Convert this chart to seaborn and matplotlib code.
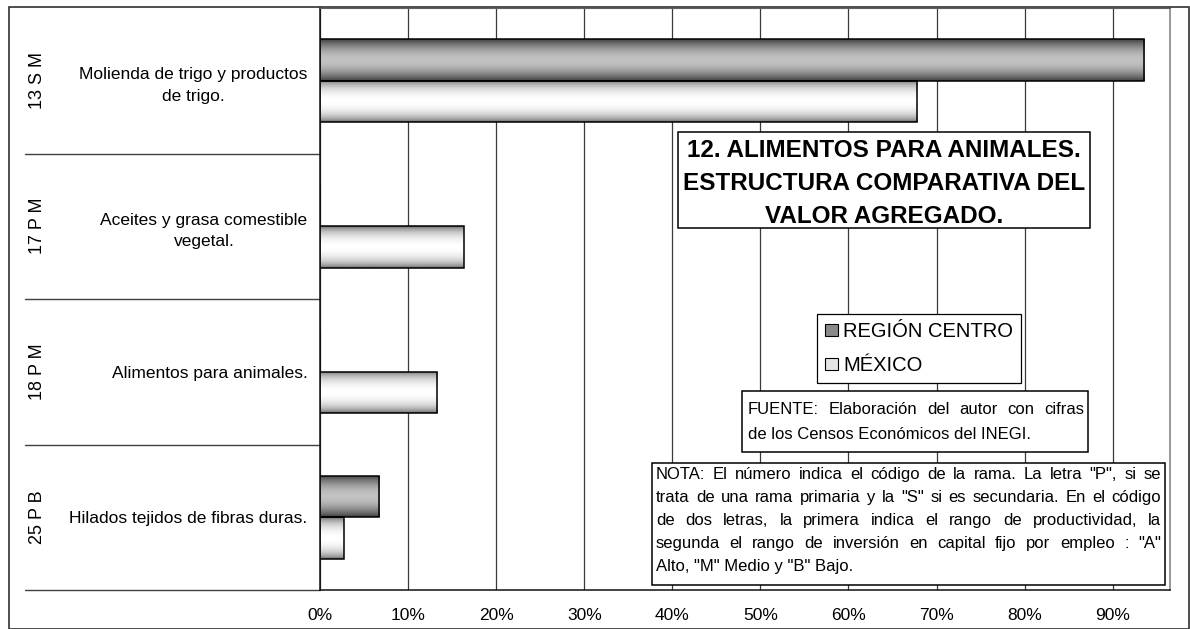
import numpy as np
import pandas as pd
import matplotlib
matplotlib.use("Agg")
import matplotlib.pyplot as plt
import matplotlib.transforms as mtrans
from matplotlib.patches import Rectangle, Patch
import seaborn as sns

# datos (porcentaje del valor agregado)
codigos = ["13 S M", "17 P M", "18 P M", "25 P B"]
ramas = ["Molienda de trigo y productos\nde trigo.",
         "Aceites y grasa comestible\nvegetal.",
         "Alimentos para animales.",
         "Hilados tejidos de fibras duras."]
series = ["REGIÓN CENTRO", "MÉXICO"]
region_centro = [93.6, 0.0, 0.0, 6.7]
mexico = [67.8, 16.3, 13.3, 2.7]
xticks = [0, 10, 20, 30, 40, 50, 60, 70, 80, 90]

titulo = ["12. ALIMENTOS PARA ANIMALES.", "ESTRUCTURA COMPARATIVA DEL", "VALOR AGREGADO."]
fuente = ["FUENTE: Elaboración del autor con cifras",
          "de los Censos Económicos del INEGI."]
nota = ['NOTA: El número indica el código de la rama. La letra "P", si se',
        'trata de una rama primaria y la "S" si es secundaria. En el código',
        'de dos letras, la primera indica el rango de productividad, la',
        'segunda el rango de inversión en capital fijo por empleo : "A"',
        'Alto, "M" Medio y "B" Bajo.']

df = pd.DataFrame({
    "rama": ramas * 2,
    "serie": [series[0]] * 4 + [series[1]] * 4,
    "valor": region_centro + mexico,
})

sns.set_style("white")
plt.rcParams["font.family"] = ["Liberation Sans", "DejaVu Sans"]
plt.rcParams["text.color"] = "black"
plt.rcParams["xtick.color"] = "black"
plt.rcParams["ytick.color"] = "black"
plt.rcParams["xtick.labelcolor"] = "black"
plt.rcParams["ytick.labelcolor"] = "black"

W, H = 1190, 629
fig = plt.figure(figsize=(W / 100, H / 100), dpi=100)
fx = lambda x: x / W
fy = lambda y: 1 - y / H

ax = fig.add_axes([fx(320), fy(590), (1170 - 320) / W, (590 - 8) / H])
sns.barplot(data=df, y="rama", x="valor", hue="serie", orient="h", width=0.57,
            palette=["#8a8a8a", "#e8e8e8"], edgecolor="black", linewidth=1.1,
            legend=False, ax=ax)


def shade(patch, c_edge, c_mid, p):
    # relleno degradado tipo cilindro, recortado a la barra
    x0, y0 = patch.get_x(), patch.get_y()
    w, h = patch.get_width(), patch.get_height()
    if w <= 0:
        return
    t = np.linspace(0, 1, 80)
    g = (c_edge + (c_mid - c_edge) * np.sin(np.pi * t) ** p)[:, None]
    im = ax.imshow(g, extent=(x0, x0 + w, y0 + h, y0), cmap="gray", vmin=0, vmax=1,
                   aspect="auto", interpolation="bilinear", zorder=patch.get_zorder())
    im.set_clip_path(patch)
    patch.set_facecolor("none")
    patch.set_zorder(patch.get_zorder() + 0.5)


for bar in ax.containers[0]:
    shade(bar, 0.25, 0.76, 0.9)
for bar in ax.containers[1]:
    shade(bar, 0.33, 1.0, 0.5)

ax.set_xlim(0, 96.5)
ax.set_ylim(3.5, -0.5)
ax.set_xticks(xticks)
ax.set_xticklabels([f"{v}%" for v in xticks], fontsize=12.5)
ax.set_yticks(range(len(ramas)))
ax.set_yticklabels(ramas, fontsize=12.5, multialignment="center", linespacing=1.55)
ax.tick_params(axis="y", length=0, pad=9)
ax.tick_params(axis="x", length=4, width=1, color="#202020", direction="out", pad=9)
ax.set_xlabel("")
ax.set_ylabel("")
ax.set_axisbelow(True)
ax.xaxis.grid(True, color="#3a3a3a", linewidth=0.9)
ax.yaxis.grid(False)
for s in ["left", "bottom"]:
    ax.spines[s].set_color("#101010")
    ax.spines[s].set_linewidth(1.1)
ax.spines["right"].set_color("#909090")
ax.spines["right"].set_linewidth(1.3)
ax.spines["top"].set_color("#606060")

# separadores y codigos de rama a la izquierda
bl = mtrans.blended_transform_factory(fig.transFigure, ax.transData)
for b in [0.5, 1.5, 2.5, 3.5]:
    ax.plot([fx(25), fx(320)], [b, b], transform=bl, color="#404040", lw=1.0, clip_on=False)
for i, c in enumerate(codigos):
    ax.text(fx(37), i, c, transform=bl, rotation=90, ha="center", va="center", fontsize=13)

# marco de la figura
fig.add_artist(Rectangle((fx(9), fy(629)), fx(1189) - fx(9), fy(7) - fy(629),
                         transform=fig.transFigure, fill=False, edgecolor="#303030", lw=1.2))

# leyenda
handles = [Patch(facecolor="#8a8a8a", edgecolor="black", lw=0.8),
           Patch(facecolor="#e4e4e4", edgecolor="black", lw=0.8)]
leg = ax.legend(handles, series, loc="upper left", bbox_to_anchor=(fx(817), fy(314)),
                bbox_transform=fig.transFigure, fontsize=14.5, frameon=True, fancybox=False,
                edgecolor="black", framealpha=1, handlelength=0.65, handleheight=0.55,
                handletextpad=0.25, labelspacing=0.75, borderpad=0.4, borderaxespad=0)
leg.get_frame().set_linewidth(0.9)
leg.set_zorder(5)


def caja(x0, y0, x1, y1):
    fig.add_artist(Rectangle((fx(x0), fy(y1)), fx(x1) - fx(x0), fy(y0) - fy(y1),
                             transform=fig.transFigure, facecolor="white",
                             edgecolor="black", lw=1.1, zorder=3))


renderer = fig.canvas.get_renderer()


def justificado(lineas, x0, x1, base0, dy, size):
    # texto justificado: cada palabra colocada sobre la misma linea base
    for i, linea in enumerate(lineas):
        y = fy(base0 + i * dy)
        if i == len(lineas) - 1:
            fig.text(fx(x0), y, linea, ha="left", va="baseline", fontsize=size, zorder=4)
            continue
        palabras = linea.split(" ")
        objs = [fig.text(0, y, p, ha="left", va="baseline", fontsize=size, zorder=4)
                for p in palabras]
        anchos = [o.get_window_extent(renderer).width for o in objs]
        hueco = max((x1 - x0 - sum(anchos)) / (len(palabras) - 1), 2)
        x = x0
        for o, a in zip(objs, anchos):
            o.set_x(fx(x))
            x += a + hueco


# titulo
caja(678, 132, 1090, 228)
for i, t in enumerate(titulo):
    fig.text(fx(884), fy(150 + i * 33.5), t, ha="center", va="center",
             fontsize=17.5, fontweight="bold", zorder=4)

# fuente
caja(742, 391, 1088, 452)
justificado(fuente, 748, 1084, 414, 25, 12)

# nota
caja(652, 463, 1165, 585)
justificado(nota, 656, 1161, 479, 23, 12)

fig.savefig("out.png", dpi=100)
